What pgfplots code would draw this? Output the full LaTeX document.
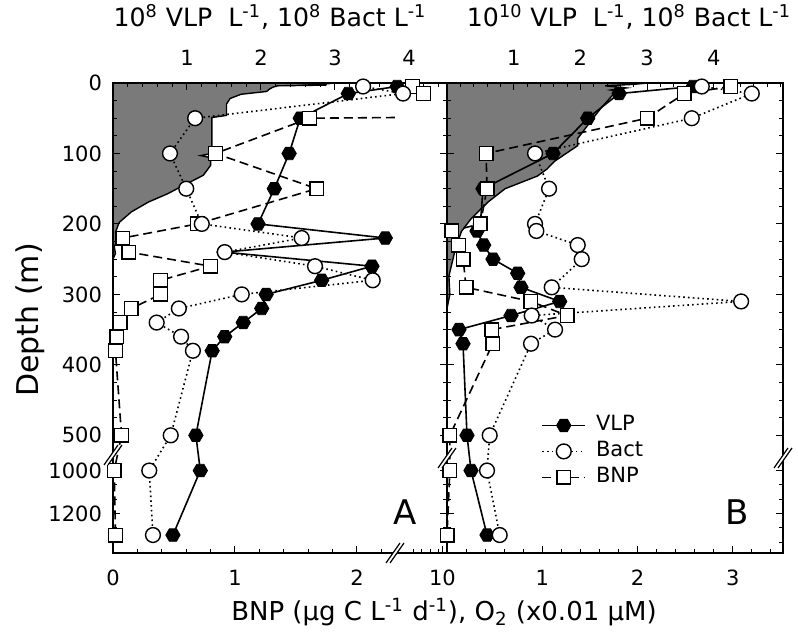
\documentclass[border=0pt]{standalone}
\usepackage{fontspec}
\setmainfont{DejaVu Sans}
\usepackage{pgfplots}
\usepackage{pgfplotstable}
\pgfplotsset{compat=1.18}

\definecolor{o2gray}{RGB}{122,122,122}

\pgfdeclareplotmark{hexa*}{%
  \pgfpathmoveto{\pgfpointpolar{0}{\pgfplotmarksize}}%
  \pgfpathlineto{\pgfpointpolar{60}{\pgfplotmarksize}}%
  \pgfpathlineto{\pgfpointpolar{120}{\pgfplotmarksize}}%
  \pgfpathlineto{\pgfpointpolar{180}{\pgfplotmarksize}}%
  \pgfpathlineto{\pgfpointpolar{240}{\pgfplotmarksize}}%
  \pgfpathlineto{\pgfpointpolar{300}{\pgfplotmarksize}}%
  \pgfpathclose
  \pgfusepathqfillstroke}

% depth (m) -> broken-axis position (0..500 linear, 1000.. compressed)
\newcommand{\dep}{ifthenelse(\thisrow{d}>750,-550-(\thisrow{d}-1000)*0.305,-\thisrow{d})}

\pgfplotsset{
  vlp/.style={black, solid, line width=0.8pt, mark=hexa*, mark size=3.6pt,
    mark options={solid, fill=black, line width=0.4pt}},
  bact/.style={black, line width=0.8pt, dash pattern=on 0.8pt off 1.6pt, mark=*, mark size=3.7pt,
    mark options={solid, fill=white, line width=0.7pt}},
  bnp/.style={black, line width=0.8pt, dash pattern=on 4.5pt off 2.5pt, mark=square*, mark size=3.4pt,
    mark options={solid, fill=white, line width=0.7pt}},
  panel/.style={scale only axis, height=235pt, ymin=-667, ymax=0, clip=false,
    tick align=inside, major tick length=3.5pt, minor tick length=2pt,
    tick style={black, line width=0.5pt}, axis line style={line width=0.6pt},
    ticklabel style={font=\fontsize{10.5}{12}\selectfont}},
  ydepth/.style={ytick={-611,-550,-500,-400,-300,-200,-100,0},
    minor ytick={-25,-50,-75,-125,-150,-175,-225,-250,-275,-325,-350,-375,-425,-450,-475,-570.3,-590.7,-631.3,-651.7}},
}

% ---------- Panel A data ----------
\pgfplotstableread{
d v
5 3.84
15 3.18
50 2.53
100 2.38
150 2.18
200 1.96
220 3.68
240 1.50
260 3.50
280 2.82
300 2.07
320 2.01
340 1.76
360 1.51
380 1.34
500 1.12
1000 1.18
1300 0.81
}\vlpA
\pgfplotstableread{
d b
5 3.38
15 3.92
50 1.11
100 0.77
150 0.99
200 1.20
220 2.55
240 1.51
260 2.73
280 3.51
300 1.74
320 0.89
340 0.59
360 0.92
380 1.08
500 0.78
1000 0.49
1300 0.54
}\bactA
\pgfplotstableread{
d n
5 6.5
15 7.8
}\bnpAtop
\pgfplotstableread{
d n
50 1.61
100 0.84
150 1.67
200 0.69
220 0.08
240 0.13
260 0.80
280 0.39
300 0.39
320 0.15
340 0.06
360 0.03
380 0.02
500 0.07
1000 0.01
1300 0.02
}\bnpA
\pgfplotstableread{
d o
0 0
0 1.30
1 1.78
2 1.60
3 1.75
4 1.35
6 1.31
9 1.28
12 1.26
16 1.05
22 0.96
30 0.93
46 0.93
49 0.81
100 0.81
103 0.72
106 0.80
117 0.80
131 0.74
146 0.57
157 0.45
169 0.29
183 0.15
198 0.05
212 0.02
222 0.04
232 0.01
242 0.02
250 0
}\oxA

% ---------- Panel B data ----------
\pgfplotstableread{
d v
5 3.69
15 2.58
50 2.11
100 1.59
150 0.54
200 0.50
210 0.45
230 0.55
250 0.69
270 1.06
290 1.11
310 1.69
330 0.96
350 0.18
370 0.24
500 0.30
1000 0.36
1300 0.60
}\vlpB
\pgfplotstableread{
d b
5 3.82
15 4.57
50 3.67
100 1.32
150 1.53
200 1.32
210 1.34
230 1.96
250 2.02
290 1.57
310 4.41
330 1.27
350 1.62
370 1.26
500 0.64
1000 0.60
1300 0.79
}\bactB
\pgfplotstableread{
d n
5 2.98
15 2.49
50 2.10
100 0.41
150 0.42
200 0.35
210 0.05
230 0.12
250 0.17
290 0.20
310 0.88
330 1.26
350 0.47
370 0.48
500 0.03
1000 0.03
1300 0.00
}\bnpB
\pgfplotstableread{
d o
0 0
0 2.11
2 1.95
4 1.66
7 1.88
10 1.72
13 1.85
17 1.74
23 1.70
35 1.62
47 1.55
63 1.46
79 1.37
89 1.37
100 1.25
111 1.13
122 1.05
132 0.95
141 0.78
150 0.61
169 0.43
193 0.25
211 0.15
240 0.08
274 0.02
300 0.03
320 0
}\oxB

\newcommand{\brk}[2]{%
  \begin{scope}[shift={({#1*0.5pt},{-#2*0.5pt})}]
    \fill[white] (-4.5pt,-5pt) -- (2.5pt,5pt) -- (4.5pt,5pt) -- (-2.5pt,-5pt) -- cycle;
    \draw[line width=0.6pt] (-4.5pt,-5pt) -- (2.5pt,5pt) (-2.5pt,-5pt) -- (4.5pt,5pt);
  \end{scope}}

\begin{document}
\begin{tikzpicture}
\path[use as bounding box] (0pt,0pt) rectangle (399pt,-317.5pt);

% ===== Panel A =====
\begin{axis}[panel, hide axis, at={(56.5pt,-41.5pt)}, anchor=north west, width=167pt, xmin=0, xmax=2.738]
  \addplot[fill=o2gray, draw=black, line width=0.7pt] table[x=o, y expr=\dep] {\oxA};
\end{axis}
\begin{axis}[panel, at={(56.5pt,-41.5pt)}, anchor=north west, width=167pt, xmin=0, xmax=4.514,
  xtick={1,2,3,4}, xticklabels={1,2,3,4}, minor xtick={0.2,0.4,...,4.4},
  xtick pos=right, xticklabel pos=right, ytick=\empty, xticklabel style={yshift=5pt}]
\end{axis}
\begin{axis}[panel, ydepth, at={(56.5pt,-41.5pt)}, anchor=north west, width=167pt, xmin=0, xmax=2.738,
  xtick={0,1,2,2.70}, xticklabels={0,1,2,10},
  minor xtick={0.2,0.4,0.6,0.8,1.2,1.4,1.6,1.8,2.2,2.46,2.53,2.60,2.67},
  xtick pos=left, xticklabel pos=left, ytick pos=both, yticklabel pos=left,
  yticklabels={1200,1000,500,400,300,200,100,0},
  xticklabel style={yshift=-5pt}, yticklabel style={xshift=-2pt}]
  \addplot[vlp] table[x expr=\thisrow{v}*0.60656, y expr=\dep] {\vlpA};
  \addplot[bnp] table[x expr=2.70-(10-\thisrow{n})*0.07, y expr=\dep] {\bnpAtop};
  \addplot[bnp, no marks] coordinates {(2.31,-49) (1.61,-50)};
  \addplot[bnp] table[x=n, y expr=\dep] {\bnpA};
  \addplot[bact] table[x expr=\thisrow{b}*0.60656, y expr=\dep] {\bactA};
  \node[font=\fontsize{17}{20}\selectfont] at (axis description cs:0.874,0.087) {A};
\end{axis}

% ===== Panel B =====
\begin{axis}[panel, hide axis, at={(223.5pt,-41.5pt)}, anchor=north west, width=168pt, xmin=0, xmax=3.526]
  \addplot[fill=o2gray, draw=black, line width=0.7pt] table[x=o, y expr=\dep] {\oxB};
\end{axis}
\begin{axis}[panel, at={(223.5pt,-41.5pt)}, anchor=north west, width=168pt, xmin=0, xmax=5.0375,
  xtick={1,2,3,4}, xticklabels={1,2,3,4}, minor xtick={0.2,0.4,...,5.0},
  xtick pos=right, xticklabel pos=right, ytick=\empty, xticklabel style={yshift=5pt}]
\end{axis}
\begin{axis}[panel, ydepth, at={(223.5pt,-41.5pt)}, anchor=north west, width=168pt, xmin=0, xmax=3.526,
  xtick={0,1,2,3}, xticklabels={,1,2,3}, minor xtick={0.2,0.4,...,3.4},
  xtick pos=left, xticklabel pos=left, ytick pos=both, yticklabels={,,,,,,,},
  xticklabel style={yshift=-5pt},
  legend style={at={(0.28,0.30)}, anchor=north west, draw=none, fill=none, inner sep=0pt,
    font=\fontsize{10.5}{12}\selectfont, row sep=0pt,
    nodes={inner sep=1pt, text height=8pt, text depth=3pt},
    /tikz/every odd column/.append style={column sep=4pt}},
  legend cell align=left,
  legend image code/.code={%
    \draw[#1, mark=none] (0pt,0pt) -- (21.5pt,0pt);
    \draw[#1] plot coordinates {(10.75pt,0pt)};}]
  \addplot[vlp, forget plot] table[x expr=\thisrow{v}*0.69990, y expr=\dep] {\vlpB};
  \addplot[bnp, forget plot] table[x=n, y expr=\dep] {\bnpB};
  \addplot[bact, forget plot] table[x expr=\thisrow{b}*0.69990, y expr=\dep] {\bactB};
  \addlegendimage{vlp}\addlegendentry{VLP}
  \addlegendimage{bact}\addlegendentry{Bact}
  \addlegendimage{bnp}\addlegendentry{BNP}
  \node[font=\fontsize{17}{20}\selectfont] at (axis description cs:0.863,0.087) {B};
\end{axis}

% break marks
\brk{113}{455}
\brk{447}{458}
\brk{783}{458}
\brk{395}{553}

% titles and labels
\node[font=\fontsize{12.6}{14}\selectfont] at (135pt,-8.5pt) {10\textsuperscript{8} VLP~~L\textsuperscript{-1}, 10\textsuperscript{8} Bact L\textsuperscript{-1}};
\node[font=\fontsize{12.6}{14}\selectfont] at (314.5pt,-8.5pt) {10\textsuperscript{10} VLP~~L\textsuperscript{-1}, 10\textsuperscript{8} Bact L\textsuperscript{-1}};
\node[font=\fontsize{13}{15}\selectfont] at (222pt,-306pt) {BNP (µg C L\textsuperscript{-1} d\textsuperscript{-1}), O\textsubscript{2} (x0.01 µM)};
\node[font=\fontsize{15}{18}\selectfont, rotate=90] at (15pt,-160pt) {Depth (m)};
\end{tikzpicture}
\end{document}
